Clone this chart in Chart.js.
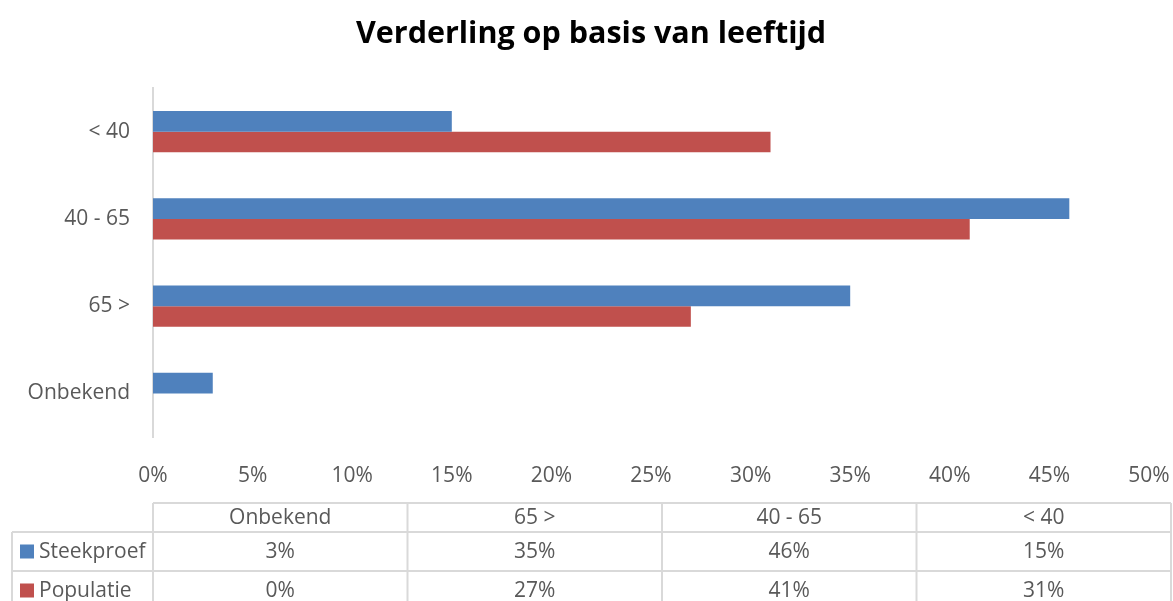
<!DOCTYPE html>
<html>
<head>
<meta charset="utf-8">
<script src="https://cdn.jsdelivr.net/npm/chart.js@4/dist/chart.umd.min.js"></script>
<style>
  body { margin: 0; background: #fff; }
  canvas { display: block; }
</style>
</head>
<body>
<canvas id="myChart" width="1173" height="601"></canvas>
<script>
// data, in the order of the data table (Excel puts the first one at the bottom)
const chartTitle = 'Verderling op basis van leeftijd';
const categories = ['Onbekend', '65 >', '40 - 65', '< 40'];
const steekproef = [3, 35, 46, 15];
const populatie = [0, 27, 41, 31];
const seriesNames = ['Steekproef', 'Populatie'];
const seriesColors = ['#4f81bd', '#c0504d'];
const xTicks = [0, 5, 10, 15, 20, 25, 30, 35, 40, 45, 50];

const FONT = "'Open Sans', sans-serif";
const GREY = '#595959';
const LINE = '#d9d9d9';

// title + data table under the axis
const extras = {
  id: 'extras',
  afterDraw(chart) {
    const ctx = chart.ctx;
    const area = chart.chartArea;
    ctx.save();

    ctx.fillStyle = '#000';
    ctx.font = "bold 30.5px " + FONT;
    ctx.textAlign = 'center';
    ctx.textBaseline = 'alphabetic';
    ctx.fillText(chartTitle, 591, 43);

    // table
    const left = area.left, right = 1171, legLeft = 12;
    const rows = [503, 532, 571, 610];
    const colW = (right - left) / categories.length;
    ctx.strokeStyle = LINE;
    ctx.lineWidth = 2;
    ctx.beginPath();
    ctx.moveTo(left, rows[0]); ctx.lineTo(right, rows[0]);
    for (let r = 1; r < rows.length; r++) {
      ctx.moveTo(legLeft, rows[r]); ctx.lineTo(right, rows[r]);
    }
    for (let c = 0; c <= categories.length; c++) {
      const x = left + c * colW;
      ctx.moveTo(x, rows[0]); ctx.lineTo(x, rows[3]);
    }
    ctx.moveTo(legLeft, rows[1]); ctx.lineTo(legLeft, rows[3]);
    ctx.stroke();

    ctx.font = "21px " + FONT;
    ctx.fillStyle = GREY;
    ctx.textBaseline = 'middle';
    ctx.textAlign = 'center';
    const values = [steekproef, populatie];
    categories.forEach((cat, i) => {
      const cx = left + colW * (i + 0.5);
      ctx.fillText(cat, cx, (rows[0] + rows[1]) / 2 + 1);
      values.forEach((vals, s) => {
        ctx.fillText(vals[i] + '%', cx, (rows[s + 1] + rows[s + 2]) / 2 + 1);
      });
    });

    ctx.textAlign = 'left';
    seriesNames.forEach((name, s) => {
      const cy = (rows[s + 1] + rows[s + 2]) / 2;
      ctx.fillStyle = seriesColors[s];
      ctx.fillRect(20, cy - 7, 14, 14);
      ctx.fillStyle = GREY;
      ctx.fillText(name, 39, cy + 1);
    });
    ctx.restore();
  }
};

new Chart(document.getElementById('myChart'), {
  type: 'bar',
  data: {
    labels: categories,
    datasets: [{
      label: seriesNames[0],
      data: steekproef,
      backgroundColor: seriesColors[0]
    }, {
      label: seriesNames[1],
      data: populatie,
      backgroundColor: seriesColors[1]
    }]
  },
  options: {
    indexAxis: 'y',
    responsive: false,
    animation: false,
    categoryPercentage: 0.47,
    barPercentage: 1,
    layout: { padding: { left: 0, right: 24, top: 88, bottom: 119 } },
    plugins: { legend: { display: false }, title: { display: false }, tooltip: { enabled: false } },
    scales: {
      x: {
        min: 0,
        max: 50,
        afterFit(scale) {
          scale.height = 45;
          scale.paddingLeft = 0;
          scale.paddingRight = 0;
        },
        afterBuildTicks(scale) { scale.ticks = xTicks.map(v => ({ value: v })); },
        grid: { display: false },
        border: { display: false },
        ticks: {
          color: GREY,
          font: { family: FONT, size: 21 },
          padding: 18,
          maxRotation: 0,
          callback: v => v + '%'
        }
      },
      y: {
        reverse: true,
        afterFit(scale) { scale.width = 153; },
        grid: { color: 'rgba(0,0,0,0)', drawTicks: false },
        border: { display: true, color: LINE, width: 2 },
        ticks: {
          color: GREY,
          font: { family: FONT, size: 21 },
          padding: 23
        }
      }
    }
  },
  plugins: [extras]
});
</script>
</body>
</html>
